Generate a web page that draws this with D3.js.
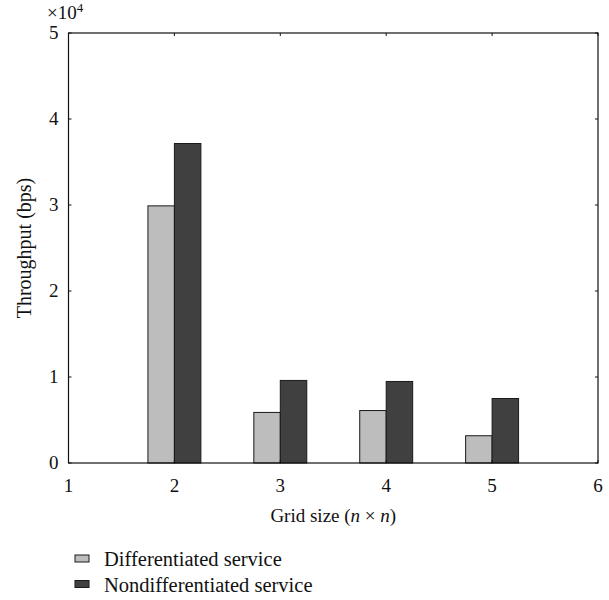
<!DOCTYPE html>
<html>
<head>
<meta charset="utf-8">
<script src="https://cdn.jsdelivr.net/npm/d3@7"></script>
<style>
  body { margin: 0; background: #fff; }
</style>
</head>
<body>
<div id="chart"></div>
<script>
// grid sizes and throughput (bps)
const gridSizes = [2, 3, 4, 5]
const differentiated = [29900, 5880, 6100, 3170]
const nondifferentiated = [37150, 9600, 9480, 7500]
const xTicks = [1, 2, 3, 4, 5, 6]
const yTicks = [0, 1, 2, 3, 4, 5]
const seriesNames = ["Differentiated service", "Nondifferentiated service"]
const seriesColors = ["#bdbdbd", "#404040"]

const width = 609
const height = 600
const margin = { left: 68.5, right: 11, top: 33, bottom: 137 }
const fs = 19

const svg = d3.select("#chart").append("svg")
  .attr("width", width)
  .attr("height", height)
  .attr("font-family", "Liberation Serif, Times New Roman, serif")
  .attr("fill", "#111")

const x = d3.scaleLinear().domain([1, 6]).range([margin.left, width - margin.right])
const y = d3.scaleLinear().domain([0, 50000]).range([height - margin.bottom, margin.top])

const barW = 0.25 // in grid units

// bars
const series = [differentiated, nondifferentiated]
series.forEach((vals, s) => {
  svg.append("g").selectAll("rect")
    .data(gridSizes)
    .enter().append("rect")
    .attr("x", (d) => x(d + (s - 1) * barW))
    .attr("width", x(1 + barW) - x(1))
    .attr("y", (d, i) => y(vals[i]))
    .attr("height", (d, i) => y(0) - y(vals[i]))
    .attr("fill", seriesColors[s])
    .attr("stroke", "#1a1a1a")
    .attr("stroke-width", 1)
})

// frame with inward ticks
const x0 = x(1), x1 = x(6), y0 = y(0), y1 = y(50000)
svg.append("rect")
  .attr("x", x0).attr("y", y1)
  .attr("width", x1 - x0).attr("height", y0 - y1)
  .attr("fill", "none").attr("stroke", "#111").attr("stroke-width", 1.2)

const tickLen = 3
svg.append("g").selectAll("line").data(xTicks).enter().append("line")
  .attr("x1", d => x(d)).attr("x2", d => x(d))
  .attr("y1", y0).attr("y2", y0 - tickLen).attr("stroke", "#111")
svg.append("g").selectAll("line").data(xTicks).enter().append("line")
  .attr("x1", d => x(d)).attr("x2", d => x(d))
  .attr("y1", y1).attr("y2", y1 + tickLen).attr("stroke", "#111")
svg.append("g").selectAll("line").data(yTicks).enter().append("line")
  .attr("x1", x0).attr("x2", x0 + tickLen)
  .attr("y1", d => y(d * 10000)).attr("y2", d => y(d * 10000)).attr("stroke", "#111")
svg.append("g").selectAll("line").data(yTicks).enter().append("line")
  .attr("x1", x1).attr("x2", x1 - tickLen)
  .attr("y1", d => y(d * 10000)).attr("y2", d => y(d * 10000)).attr("stroke", "#111")

// tick labels
svg.append("g").selectAll("text").data(xTicks).enter().append("text")
  .attr("x", d => x(d)).attr("y", y0 + 29)
  .attr("text-anchor", "middle")
  .attr("font-size", fs)
  .text(d => d)
svg.append("g").selectAll("text").data(yTicks).enter().append("text")
  .attr("x", x0 - 10).attr("y", d => y(d * 10000) + 6)
  .attr("text-anchor", "end")
  .attr("font-size", fs)
  .text(d => d)

// exponent
const expo = svg.append("text").attr("x", 47).attr("y", 19).attr("font-size", fs)
expo.append("tspan").text("×10")
expo.append("tspan").attr("dy", -7).attr("font-size", 13).text("4")

// axis titles
const xt = svg.append("text")
  .attr("x", (x0 + x1) / 2).attr("y", 522)
  .attr("text-anchor", "middle")
  .attr("font-size", fs)
xt.append("tspan").text("Grid size (")
xt.append("tspan").attr("font-style", "italic").text("n")
xt.append("tspan").text(" × ")
xt.append("tspan").attr("font-style", "italic").text("n")
xt.append("tspan").text(")")

svg.append("text")
  .attr("transform", `translate(31,${(y0 + y1) / 2}) rotate(-90)`)
  .attr("text-anchor", "middle")
  .attr("font-size", 20)
  .text("Throughput (bps)")

// legend
const legend = svg.append("g").selectAll("g")
  .data(seriesNames)
  .enter().append("g")
  .attr("transform", (d, i) => `translate(75,${555 + i * 25.5})`)
legend.append("rect")
  .attr("width", 14).attr("height", 7)
  .attr("fill", (d, i) => seriesColors[i])
  .attr("stroke", "#1a1a1a")
legend.append("text")
  .attr("x", 29).attr("y", 11)
  .attr("font-size", 20.5)
  .text(d => d)
</script>
</body>
</html>
